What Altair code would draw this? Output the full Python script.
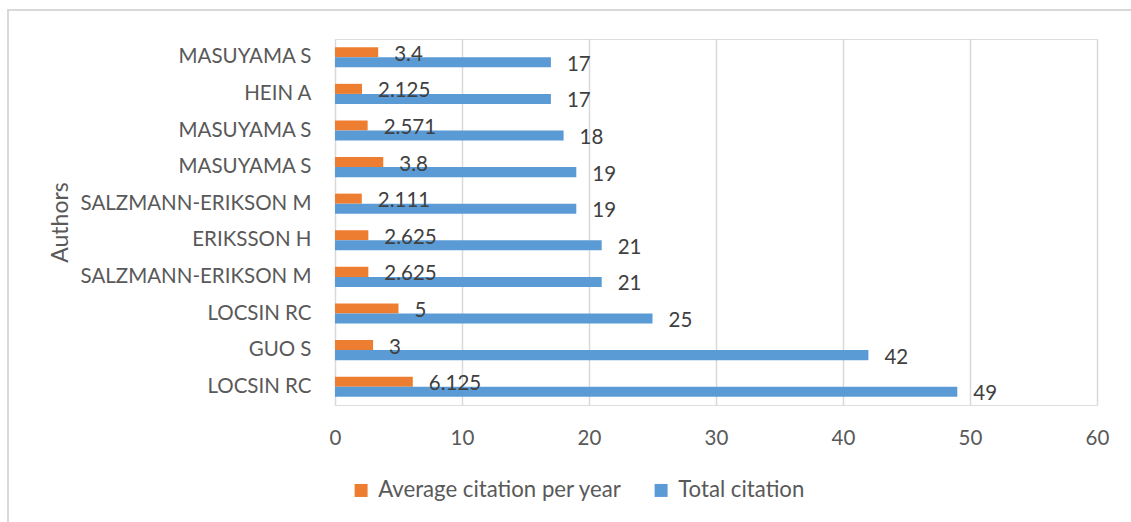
import altair as alt
import pandas as pd

# Authors from top to bottom of the chart
authors = [
    "MASUYAMA S", "HEIN A", "MASUYAMA S", "MASUYAMA S", "SALZMANN-ERIKSON M",
    "ERIKSSON H", "SALZMANN-ERIKSON M", "LOCSIN RC", "GUO S", "LOCSIN RC",
]
total_citation = [17, 17, 18, 19, 19, 21, 21, 25, 42, 49]
avg_citation = [3.4, 2.125, 2.571, 3.8, 2.111, 2.625, 2.625, 5, 3, 6.125]
series_names = ["Average citation per year", "Total citation"]
series_colors = ["#ED7D31", "#5B9BD5"]
x_ticks = [0, 10, 20, 30, 40, 50, 60]

rows = []
for i, name in enumerate(authors):
    for s, v in zip(series_names, (avg_citation[i], total_citation[i])):
        rows.append({"id": str(i), "author": name, "series": s,
                     "value": v, "label": f"{v:g}"})
df = pd.DataFrame(rows)

FONT = "Lato"
GRAY = "#595959"
ids = [str(i) for i in range(len(authors))]
label_expr = "[" + ",".join(f"'{a}'" for a in authors) + "][toNumber(datum.value)]"

y_enc = alt.Y(
    "id:N", sort=ids,
    scale=alt.Scale(paddingInner=0.45, paddingOuter=0.225),
    axis=alt.Axis(
        title="Authors", labelExpr=label_expr, ticks=False, domain=False,
        labelFontSize=20.5, labelColor=GRAY, labelFont=FONT, labelPadding=24,
        labelLimit=0,
        titleFontSize=23, titleColor=GRAY, titleFont=FONT, titleFontWeight="normal",
        titleAngle=270, titleX=-268, titleY=183, titleAlign="center",
        titleBaseline="alphabetic",
    ),
)
y_off = alt.YOffset("series:N", sort=series_names, scale=alt.Scale(domain=series_names, paddingInner=0))
x_enc = alt.X(
    "value:Q",
    scale=alt.Scale(domain=[0, 60], nice=False),
    axis=alt.Axis(
        values=x_ticks, title=None, ticks=False, domain=False, labelFlush=False,
        grid=True, gridColor="#D9D9D9", gridWidth=1.5,
        labelFontSize=20.5, labelColor=GRAY, labelFont=FONT, labelPadding=23,
    ),
)
color_enc = alt.Color(
    "series:N",
    scale=alt.Scale(domain=series_names, range=series_colors),
    legend=alt.Legend(
        title=None, orient="none", direction="horizontal",
        legendX=15, legendY=440, symbolType="square", symbolSize=169,
        symbolStrokeWidth=0, labelFontSize=22.2, labelFont=FONT, labelColor=GRAY,
        labelOffset=6, columnPadding=28, padding=0, labelLimit=0,
    ),
)

base = alt.Chart(df)
bars = base.mark_bar().encode(y=y_enc, yOffset=y_off, x=x_enc, color=color_enc)
labels = base.mark_text(align="left", baseline="middle", dx=16, dy=2.5,
                        font=FONT, fontSize=20.5, color="#404040").encode(
    y=y_enc, yOffset=y_off, x=x_enc, text="label:N")

frame = alt.Chart(pd.DataFrame({"k": [0]})).mark_rect(
    fillOpacity=0, stroke="#D9D9D9", strokeWidth=2
).encode(x=alt.value(-327), x2=alt.value(820), y=alt.value(-29), y2=alt.value(520))

chart = alt.layer(frame, bars, labels).properties(
    width=762, height=366,
    autosize=alt.AutoSizeParams(type="none"),
    padding={"left": 335, "top": 39, "right": 34, "bottom": 117},
).configure_view(stroke=None).configure(background="white")

chart.save("out.html", embed_options={"renderer": "svg", "actions": False})
